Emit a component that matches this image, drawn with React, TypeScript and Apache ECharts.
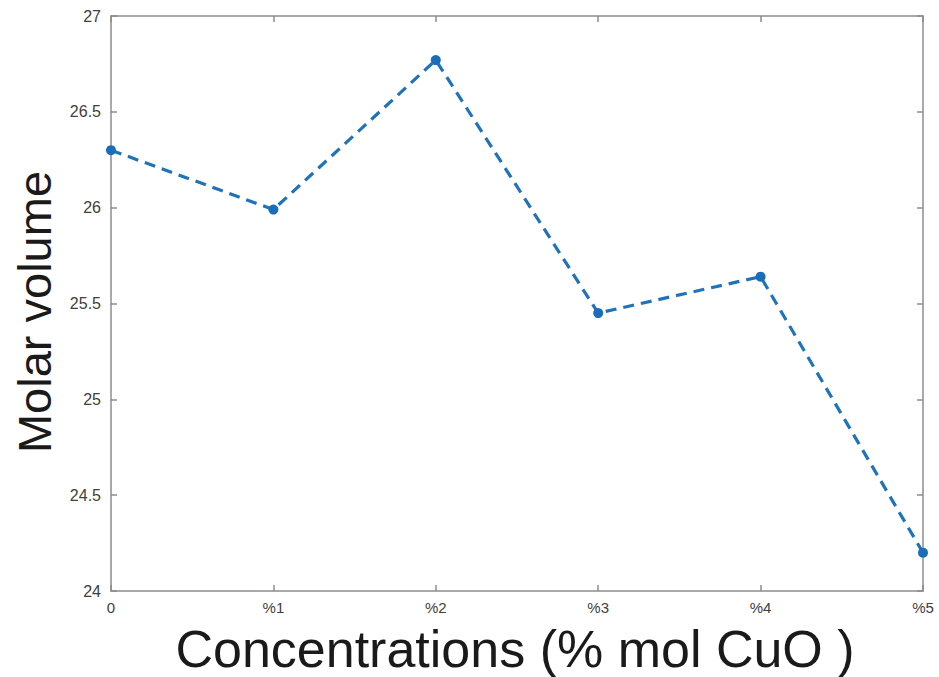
import React, { useEffect, useRef } from "react";
import * as echarts from "echarts";

const categories = ["0", "%1", "%2", "%3", "%4", "%5"];
const molarVolume = [26.3, 25.99, 26.77, 25.45, 25.64, 24.2];
const yTicks = { min: 24, max: 27, interval: 0.5 };
const xTitle = "Concentrations (% mol CuO )";
const yTitle = "Molar volume";

export default function App() {
  const ref = useRef<HTMLDivElement>(null);
  useEffect(() => {
    if (!ref.current) return;
    const chart = echarts.init(ref.current, undefined, { renderer: "svg" });
    const axisLineStyle = { color: "#8c8c8c", width: 1.5 };
    const font = "Liberation Sans, Arial, Helvetica, sans-serif";
    chart.setOption({
      animation: false,
      backgroundColor: "#ffffff",
      grid: { left: 111, right: 16, top: 16, bottom: 86, containLabel: false },
      graphic: [
        {
          type: "text",
          x: 515,
          y: 649,
          style: {
            text: xTitle,
            fontSize: 52,
            lineHeight: 40,
            fontFamily: font,
            fill: "#1a1a1a",
            align: "center",
            verticalAlign: "middle",
          },
        },
        {
          type: "text",
          x: 34,
          y: 312,
          rotation: Math.PI / 2,
          style: {
            text: yTitle,
            fontSize: 47,
            lineHeight: 40,
            fontFamily: font,
            fill: "#1a1a1a",
            align: "center",
            verticalAlign: "middle",
          },
        },
      ],
      xAxis: [
        {
          type: "category",
          data: categories,
          boundaryGap: false,
          axisLine: { show: true, lineStyle: axisLineStyle },
          axisTick: { show: true, inside: true, length: 6, lineStyle: axisLineStyle, alignWithLabel: true },
          axisLabel: { color: "#404040", fontSize: 15, fontFamily: font, margin: 9 },
          splitLine: { show: false },
        },
        {
          type: "category",
          data: categories,
          boundaryGap: false,
          position: "top",
          axisLine: { show: true, lineStyle: axisLineStyle },
          axisTick: { show: true, inside: true, length: 6, lineStyle: axisLineStyle },
          axisLabel: { show: false },
        },
      ],
      yAxis: [
        {
          type: "value",
          min: yTicks.min,
          max: yTicks.max,
          interval: yTicks.interval,
          axisLine: { show: true, lineStyle: axisLineStyle },
          axisTick: { show: true, inside: true, length: 6, lineStyle: axisLineStyle },
          axisLabel: { color: "#404040", fontSize: 16, fontFamily: font, margin: 10 },
          splitLine: { show: false },
        },
        {
          type: "value",
          min: yTicks.min,
          max: yTicks.max,
          interval: yTicks.interval,
          position: "right",
          axisLine: { show: true, lineStyle: axisLineStyle },
          axisTick: { show: true, inside: true, length: 6, lineStyle: axisLineStyle },
          axisLabel: { show: false },
          splitLine: { show: false },
        },
      ],
      series: [
        {
          type: "line",
          data: molarVolume,
          xAxisIndex: 0,
          yAxisIndex: 0,
          lineStyle: { color: "#1f73bb", width: 3.2, type: [11, 7] },
          symbol: "circle",
          symbolSize: 10,
          itemStyle: { color: "#1a6db8" },
        },
      ],
    });
    return () => chart.dispose();
  }, []);
  return (
    <div
      ref={ref}
      style={{ position: "fixed", left: 0, top: 0, width: 939, height: 677 }}
    />
  );
}
